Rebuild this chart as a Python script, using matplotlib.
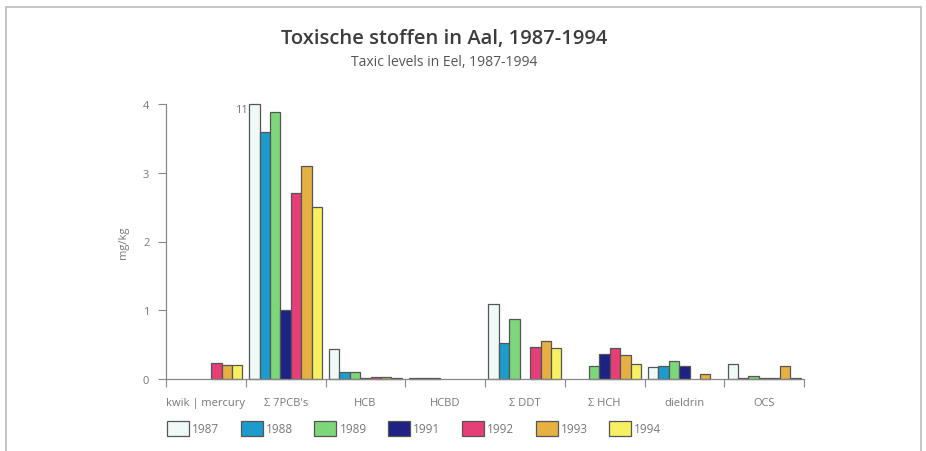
import numpy as np
import matplotlib
matplotlib.use("Agg")
import matplotlib.pyplot as plt
from matplotlib.patches import Rectangle

categories = ["kwik | mercury", "Σ 7PCB's", "HCB", "HCBD", "Σ DDT", "Σ HCH", "dieldrin", "OCS"]
years = ["1987", "1988", "1989", "1991", "1992", "1993", "1994"]
nan = np.nan
v1987 = [nan, 11.0, 0.44, 0.01, 1.09, nan, 0.17, 0.22]
v1988 = [nan, 3.6, 0.10, 0.02, 0.53, nan, 0.19, 0.02]
v1989 = [nan, 3.89, 0.10, 0.01, 0.87, 0.19, 0.26, 0.04]
v1991 = [nan, 1.0, 0.02, nan, nan, 0.36, 0.19, 0.01]
v1992 = [0.23, 2.7, 0.03, nan, 0.47, 0.45, nan, 0.01]
v1993 = [0.20, 3.1, 0.03, nan, 0.56, 0.35, 0.08, 0.19]
v1994 = [0.20, 2.5, 0.02, nan, 0.45, 0.22, nan, 0.01]
series = [v1987, v1988, v1989, v1991, v1992, v1993, v1994]
colors = ["#eef9f8", "#1b9ccc", "#7dd67a", "#1d2283", "#e63f78", "#e6b043", "#f6f062"]
ymax = 4

plt.rcParams['font.family'] = ['Open Sans', 'DejaVu Sans']
fig = plt.figure(figsize=(9.26, 4.52), dpi=100)
ax = fig.add_axes([166/926, 1-380/452, 638/926, 275/452])

bw = 0.131
txt = "#777777"
for j, (vals, c) in enumerate(zip(series, colors)):
    for i, v in enumerate(vals):
        if np.isnan(v):
            continue
        x = i + 0.5 + (j - 3) * bw
        h = min(v, ymax)
        ax.bar(x, h, width=bw, color=c, edgecolor="#555555", linewidth=0.9, zorder=2, clip_on=False)
        if v > ymax:
            ax.text(x - bw/2 - 0.01, ymax, f"{v:g}", ha="right", va="top", fontsize=8, color=txt)

ax.set_xlim(0, 8)
ax.set_ylim(0, ymax)
for s in ["top", "right"]:
    ax.spines[s].set_visible(False)
ax.spines["left"].set_color("#888888")
ax.spines["bottom"].set_color("#888888")
ax.spines["left"].set_linewidth(0.9)
ax.spines["bottom"].set_linewidth(0.9)
ax.set_xticks(range(9))
ax.set_xticklabels([])
ax.tick_params(axis="x", which="major", direction="out", length=6, color="#888888")
ax.set_xticks([i + 0.5 for i in range(8)], minor=True)
ax.set_xticklabels(categories, minor=True, fontsize=8, color=txt)
ax.tick_params(axis="x", which="minor", length=0, pad=13)
ax.set_yticks(range(5))
ax.set_yticklabels([str(i) for i in range(5)], fontsize=8, color=txt)
ax.tick_params(axis="y", direction="out", length=6, color="#888888", pad=6)
ax.set_ylabel("mg/kg", fontsize=8, color=txt, labelpad=10)

fig.text(444/926, 1-39/452, "Toxische stoffen in Aal, 1987-1994", ha="center", va="center",
         fontsize=14.5, fontweight="semibold", color="#3c3c3c")
fig.text(444/926, 1-63/452, "Taxic levels in Eel, 1987-1994", ha="center", va="center",
         fontsize=10, color="#555555")

# legend
lx0 = 167
step = 73.7
for k, (y, c) in enumerate(zip(years, colors)):
    x = lx0 + k * step
    fig.patches.append(Rectangle((x/926, 1-437/452), 22/926, 15/452, transform=fig.transFigure,
                                 facecolor=c, edgecolor="#555555", linewidth=0.9))
    fig.text((x + 25)/926, 1-429.5/452, y, ha="left", va="center", fontsize=8.5, color=txt)

# outer frame
fig.patches.append(Rectangle((6/926, -0.02), 915/926, 1.02 - 8/452, transform=fig.transFigure,
                             facecolor="none", edgecolor="#bbbbbb", linewidth=1.2))

fig.savefig("out.png", dpi=100)
